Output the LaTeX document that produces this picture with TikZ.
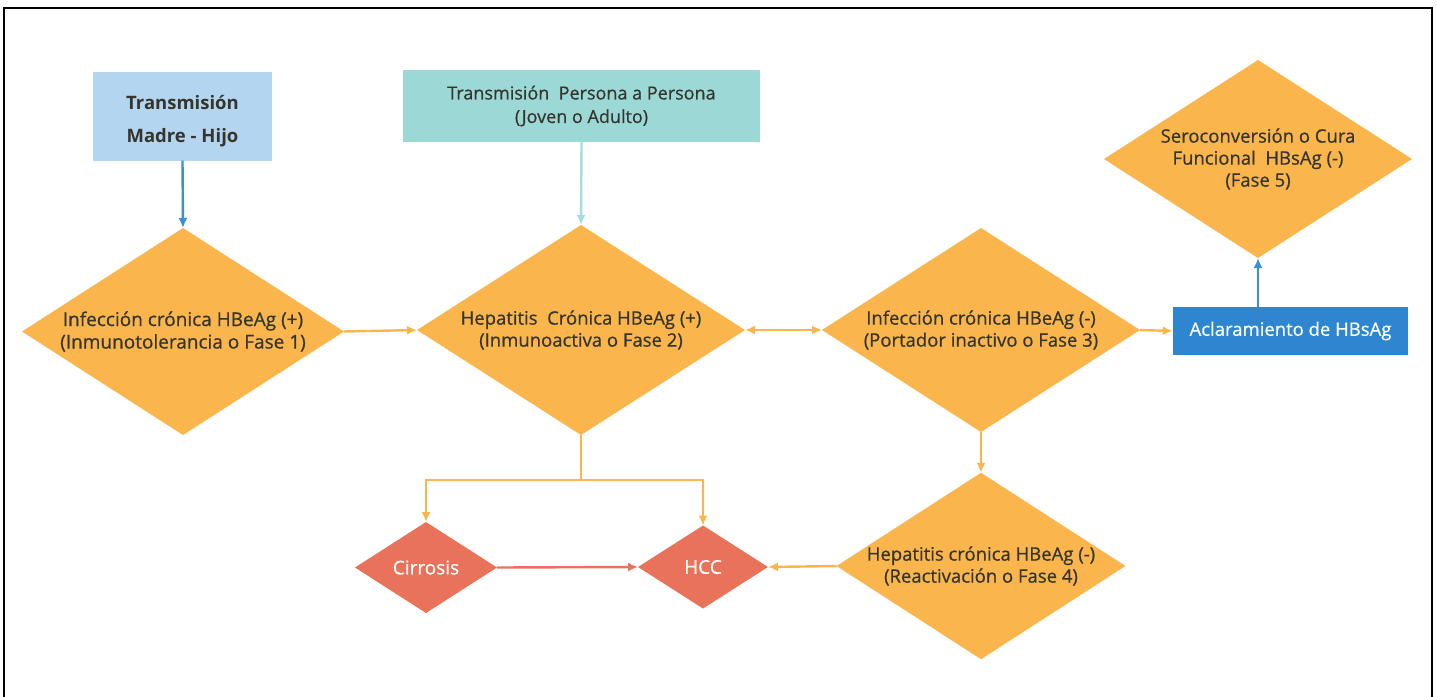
\documentclass[tikz,border=0pt]{standalone}
\usepackage{fontspec}
\setmainfont{Open Sans}
\newfontfamily\medfont{Open Sans}[FakeBold=0.6]
\usetikzlibrary{shapes.geometric,arrows.meta}
\definecolor{dorange}{HTML}{FAB54C}
\definecolor{dred}{HTML}{E8735A}
\definecolor{lblue}{HTML}{B3D5EF}
\definecolor{lteal}{HTML}{9BD8D6}
\definecolor{dblue}{HTML}{2F86D0}
\definecolor{ablue}{HTML}{3A8FD9}
\definecolor{ateal}{HTML}{A4DCE0}
\definecolor{dtext}{HTML}{35352E}
\tikzset{
  dia/.style={shape=diamond, fill=dorange, draw=none, inner sep=0pt, outer sep=0pt, align=center,
    text=dtext, font=\medfont\fontsize{18.5}{22}\selectfont},
  rdia/.style={shape=diamond, fill=dred, draw=none, inner sep=0pt, outer sep=0pt, align=center,
    text=white, font=\medfont\fontsize{19}{22}\selectfont},
  conn/.style={line width=2.4pt, -{Latex[length=10pt,width=9pt]}},
}
\begin{document}
\begin{tikzpicture}[x=1pt,y=-1pt]
\useasboundingbox (0,0) rectangle (1437,696);
% frame
\draw[line width=1.5pt, black] (4,700) -- (4,8) -- (1432,8) -- (1432,700);

% top boxes
\node[fill=lblue, minimum width=179pt, minimum height=89pt, inner sep=0pt, align=center,
  text=dtext, font=\fontsize{18.5}{33}\selectfont\bfseries] (b1) at (182.5,116) {\rule{0pt}{24pt}Transmisión\\Madre - Hijo};
\node[fill=lteal, minimum width=357pt, minimum height=72pt, inner sep=0pt, align=center,
  text=dtext, font=\medfont\fontsize{18}{23.5}\selectfont] (b2) at (581.5,106) {Transmisión\ \ Persona a Persona\\(Joven o Adulto)};

% main diamonds
\node[dia, minimum width=322pt, minimum height=207pt, shape aspect=1.55, font=\medfont\fontsize{19}{22.5}\selectfont] (d1) at (183,331.5)
  {Infección crónica HBeAg (+)\\(Inmunotolerancia o Fase 1)};
\node[dia, minimum width=328pt, minimum height=210pt, shape aspect=1.55] (d2) at (581,330)
  {Hepatitis\ \ Crónica HBeAg (+)\\(Inmunoactiva o Fase 2)};
\node[dia, minimum width=318pt, minimum height=204pt, shape aspect=1.55] (d3) at (981,330)
  {Infección crónica HBeAg (-)\\(Portador inactivo o Fase 3)};
\node[dia, minimum width=288pt, minimum height=182pt, shape aspect=1.55] (d4) at (981,566)
  {Hepatitis crónica HBeAg (-)\\(Reactivación o Fase 4)};
\node[dia, minimum width=308pt, minimum height=198pt, shape aspect=1.55] (d5) at (1258,159)
  {Seroconversión o Cura\\Funcional\ \ HBsAg (-)\\(Fase 5)};

% blue box
\node[fill=dblue, minimum width=235pt, minimum height=48pt, inner sep=0pt, text=white,
  font=\medfont\fontsize{18.5}{22}\selectfont] (b3) at (1290.5,331) {Aclaramiento de HBsAg};

% red diamonds
\node[rdia, minimum width=142pt, minimum height=91pt, shape aspect=1.56] (cir) at (426,567.5) {Cirrosis};
\node[rdia, minimum width=130pt, minimum height=83pt, shape aspect=1.56] (hcc) at (703,567) {HCC};

% connectors
\draw[conn, ablue] (b1.south) -- (d1.north);
\draw[conn, ateal] (b2.south) -- (d2.north);
\draw[conn, dorange] (d1.east) -- (d2.west);
\draw[line width=2.4pt, dorange, {Latex[length=10pt,width=9pt]}-{Latex[length=10pt,width=9pt]}] (d2.east) -- (d3.west);
\draw[conn, dorange] (d3.east) -- (b3.west);
\draw[conn, ablue] (b3.north -| d5.south) -- (d5.south);
\draw[conn, dorange] (d3.south) -- (d4.north);
\draw[conn, dorange] (d4.west) -- (hcc.east);
\draw[conn, dred] (cir.east) -- (hcc.west);
\coordinate (j) at (581,480);
\draw[conn, dorange] (d2.south) -- (j) -| (cir.north);
\draw[conn, dorange] (j) -| (hcc.north);
\end{tikzpicture}
\end{document}
